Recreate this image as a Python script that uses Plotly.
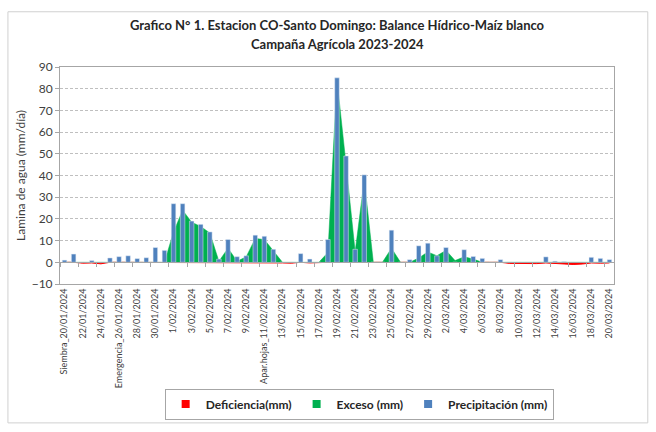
import pandas as pd
import plotly.graph_objects as go

# ---- data ----
dates = [f"{d.day}/{d.month:02d}/2024" for d in pd.date_range("2024-01-20", "2024-03-20")]

precipitacion = [1.0, 3.8, 0, 0.8, 0, 2.0, 2.6, 3.0, 1.7, 2.1,
                 6.8, 5.5, 27, 27, 19, 17.5, 14, 1.5, 10.5, 2.6,
                 3.0, 12.5, 12, 6, 0, 0, 4, 1.5, 0, 10.5,
                 85, 49, 6, 40.3, 0, 0, 14.8, 0, 1.2, 7.6,
                 8.8, 3.0, 6.8, 0, 5.8, 2.7, 1.8, 0, 1.2, 0,
                 0, 0, 0, 2.5, 0.5, 0.3, 0, 0, 2.3, 1.8,
                 1.2]

exceso = [0, 0, 0, 0, 0, 0, 0, 0, 0, 0,
          0, 0, 14, 24, 18.5, 16.5, 13.5, 0.5, 6.5, 0.5,
          2.5, 11, 10.5, 5, 0, 0, 0, 0, 0, 4.5,
          84, 45, 5, 38, 0, 0, 6.5, 0, 0, 2,
          4.8, 3, 5.5, 0.8, 2.5, 1.5, 0, 0, 0, 0,
          0, 0, 0, 0, 0, 0, 0, 0, 0, 0,
          0]

deficiencia = [0, 0, -0.4, -0.3, -0.7, 0, 0, 0, 0, 0,
               0, 0, 0, 0, 0, 0, 0, 0, 0, 0,
               0, 0, 0, 0, -0.3, -0.4, 0, -0.3, 0, 0,
               0, 0, 0, 0, -0.2, -0.3, 0, -0.3, 0, 0,
               0, 0, 0, 0, 0, 0, 0, -0.2, 0, -0.5,
               -0.6, -0.5, -0.6, -0.3, -0.5, -0.8, -1.0, -0.8, -0.3, -0.4,
               -0.3]

tick_dates = dates[::2]
tick_labels = ["Siembra_20/01/2024", "22/01/2024", "24/01/2024", "Emergencia_26/01/2024",
               "28/01/2024", "30/01/2024", "1/02/2024", "3/02/2024", "5/02/2024",
               "7/02/2024", "9/02/2024", "Apar.hojas_11/02/2024", "13/02/2024",
               "15/02/2024", "17/02/2024", "19/02/2024", "21/02/2024", "23/02/2024",
               "25/02/2024", "27/02/2024", "29/02/2024", "2/03/2024", "4/03/2024",
               "6/03/2024", "8/03/2024", "10/03/2024", "12/03/2024", "14/03/2024",
               "16/03/2024", "18/03/2024", "20/03/2024"]

title_line1 = "Grafico N° 1. Estacion CO-Santo Domingo: Balance Hídrico-Maíz blanco"
title_line2 = "Campaña Agrícola 2023-2024"

names = ["Deficiencia(mm)", "Exceso (mm)", "Precipitación (mm)"]
colors = ["#FF0000", "#00B050", "#4F81BD"]

FONT = "Lato"
GRID = "#BFBFBF"
AXIS = "#A6A6A6"
TXT = "#404040"

fig = go.Figure()

# areas (behind)
fig.add_trace(go.Scatter(x=dates, y=deficiencia, mode="lines", fill="tozeroy",
                         line=dict(color=colors[0], width=1), fillcolor=colors[0],
                         showlegend=False, hoverinfo="skip"))
fig.add_trace(go.Scatter(x=dates, y=exceso, mode="lines", fill="tozeroy",
                         line=dict(color=colors[1], width=0.5), fillcolor=colors[1],
                         showlegend=False, hoverinfo="skip"))
# bars on overlaid axes so they draw above the areas
fig.add_trace(go.Bar(x=dates, y=precipitacion, marker_color=colors[2], width=0.5,
                     xaxis="x2", yaxis="y2", showlegend=False))

# legend entries (small square icons)
for n, c in zip(names, colors):
    fig.add_trace(go.Scatter(x=[None], y=[None], name=n, mode="markers",
                             marker=dict(symbol="square", size=8, color=c)))

fig.update_layout(
    width=656, height=432,
    margin=dict(l=60, r=42, t=67, b=145),
    paper_bgcolor="white", plot_bgcolor="white",
    font=dict(family=FONT, color=TXT),
    title=dict(text="<b>" + title_line1 + "</b>",
               x=0.5, xref="paper", xanchor="center", y=1 - 25 / 432, yanchor="middle",
               automargin=False,
               font=dict(family=FONT, size=13, color="#262626")),
    annotations=[dict(text="<b>" + title_line2 + "</b>", x=0.5, xref="paper",
                      y=(287 - 44) / 220, yref="paper", xanchor="center", yanchor="middle",
                      showarrow=False, font=dict(family=FONT, size=13, color="#262626"))],
    barmode="overlay",
    showlegend=True,
    legend=dict(orientation="h", x=0.54, xanchor="center", y=-0.482, yanchor="top",
                bordercolor=AXIS, borderwidth=1, itemwidth=30,
                font=dict(family=FONT, size=12, color="#262626", weight="bold")),
    xaxis=dict(type="category", categoryorder="array", categoryarray=dates,
               range=[-0.5, len(dates) - 0.5], automargin=False,
               tickmode="array", tickvals=tick_dates, ticktext=tick_labels,
               tickangle=-90, tickfont=dict(size=9, color=TXT, family=FONT),
               ticks="", showgrid=False, showline=True, linecolor=AXIS, mirror=True,
               zeroline=False),
    yaxis=dict(range=[-10, 90], dtick=10, tick0=0, automargin=False,
               showgrid=True, gridcolor=GRID, griddash="3px,2px", gridwidth=1,
               zeroline=False, showline=True, linecolor=AXIS, mirror=True,
               ticks="outside", ticklen=4, tickcolor=AXIS,
               tickfont=dict(size=12, color=TXT, family=FONT),
               title=dict(text="Lamina de agua (mm/día)", font=dict(size=12, color=TXT, family=FONT),
                          standoff=3)),
    xaxis2=dict(type="category", overlaying="x", matches="x", anchor="free", position=0.1,
                categoryorder="array", categoryarray=dates, automargin=False,
                tickmode="array", tickvals=tick_dates, tickson="boundaries",
                ticks="outside", ticklen=4, tickcolor=AXIS, showticklabels=False,
                showgrid=False, showline=True, linecolor=AXIS, zeroline=False),
    yaxis2=dict(overlaying="y", matches="y", showticklabels=False, showgrid=False,
                zeroline=False, showline=False, ticks="", automargin=False),
    shapes=[dict(type="rect", xref="paper", yref="paper",
                 x0=-0.094, x1=1.061, y0=-0.64, y1=1.2545,
                 line=dict(color="#D0D0D0", width=1), fillcolor="rgba(0,0,0,0)", layer="below")],
)

fig.write_html("out.html", config={"displayModeBar": False},
               post_script="document.body.style.margin='0px';")
